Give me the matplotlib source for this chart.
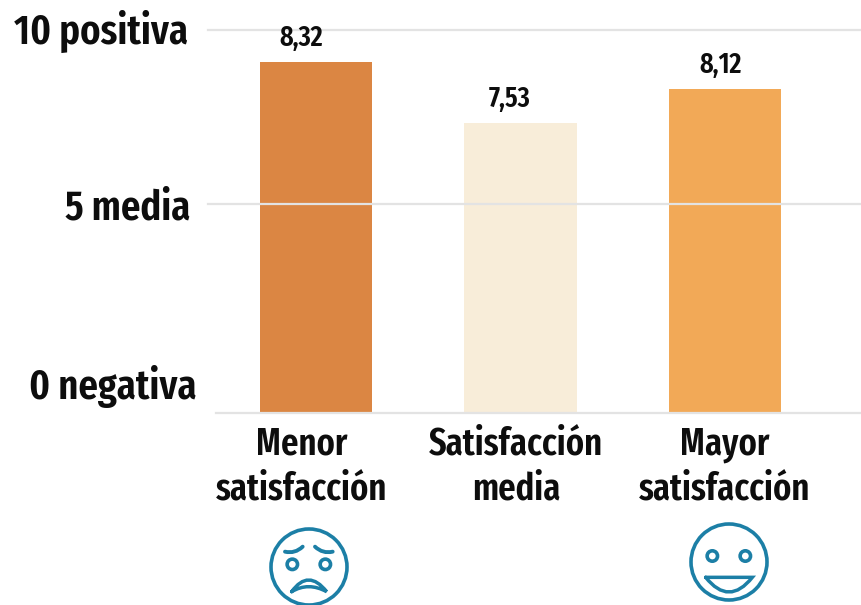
import numpy as np
import matplotlib
matplotlib.use("Agg")
import matplotlib.pyplot as plt
from matplotlib.patches import Circle, PathPatch
from matplotlib.path import Path

categories = ["Menor\nsatisfacción", "Satisfacción\nmedia", "Mayor\nsatisfacción"]
bar_heights = [9.07, 7.31, 8.29]  # height as drawn against the uneven axis
value_labels = ["8,32", "7,53", "8,12"]
bar_colors = ["#DB8643", "#F8EDD9", "#F2A957"]
tick_values = [0, 5, 10]
tick_names = ["0 negativa", "5 media", "10 positiva"]

plt.rcParams["font.family"] = ["Fira Sans Extra Condensed", "Barlow Condensed", "Liberation Sans", "DejaVu Sans"]
plt.rcParams["font.weight"] = "semibold"

W, H = 861, 605
BLUE = "#1C7FA6"
GRID = "#E3E3E3"
TEXT = "#0D0D0D"


def fx(px):
    return px / W


def fy(py):
    return 1 - py / H


# the source axis is not even: 0-5 takes more room than 5-10
def forward(v):
    return np.interp(v, [-1, 0, 5, 10, 11], [-42, 0, 209.5, 383.5, 418.3])


def inverse(p):
    return np.interp(p, [-42, 0, 209.5, 383.5, 418.3], [-1, 0, 5, 10, 11])


fig = plt.figure(figsize=(W / 100, H / 100), dpi=100)
ax = fig.add_axes([fx(208), fy(413), fx(W - 208), fy(0) - fy(413)])
ax.set_yscale("function", functions=(forward, inverse))
ax.set_ylim(0, 10 + 29.5 / 34.8)
ax.set_xlim(-108 / 204.5, 545 / 204.5)
ax.axis("off")

x = np.arange(len(categories))
ax.bar(x, bar_heights, width=0.548, color=bar_colors, zorder=2)

for v in tick_values[1:]:
    ax.plot([-108 / 204.5, 545 / 204.5], [v, v], color=GRID, lw=1.6, zorder=3, clip_on=False)
ax.plot([-100 / 204.5, 545 / 204.5], [0, 0], color=GRID, lw=1.6, zorder=3, clip_on=False)

# texts sit off-centre in the source, so they go by pixel position
tick_right = [197, 190, 188]
tick_y = [387, 208, 31]
for name, right, py in zip(tick_names, tick_right, tick_y):
    fig.text(fx(right), fy(py), name, ha="right", va="center", fontsize=30.2, color=TEXT)

label_dx = [-15, -11, -4]
for i, lab in enumerate(value_labels):
    ax.annotate(lab, (x[i], bar_heights[i]), xytext=(label_dx[i] * 0.72, 17.3),
                textcoords="offset points", ha="center", va="center",
                fontsize=20.5, color=TEXT, zorder=5)

cat_x = [302, 516, 725]
for cx, cat in zip(cat_x, categories):
    fig.text(fx(cx), fy(467), cat, ha="center", va="center", fontsize=27,
             color=TEXT, linespacing=1.28)

# overlay in pixel units for the two face icons
ov = fig.add_axes([0, 0, 1, 1])
ov.set_xlim(0, W)
ov.set_ylim(H, 0)
ov.axis("off")
ov.patch.set_alpha(0)


def stroke(x0, y0, verts, codes, lw=2.8):
    pts = [(x0 + a / 3, y0 + b / 3) for a, b in verts]
    ov.add_patch(PathPatch(Path(pts, codes), fc="none", ec=BLUE, lw=lw, capstyle="round"))


def face(cx, cy, eye_y, x0, y0):
    ov.add_patch(Circle((cx, cy), 38, fc="none", ec=BLUE, lw=2.6))
    for ex in (127, 226):
        ov.add_patch(Circle((x0 + ex / 3, y0 + eye_y / 3), 5.2, fc="none", ec=BLUE, lw=2.6))


C3 = [Path.MOVETO, Path.CURVE3, Path.CURVE3]
face(309, 567, 163, 250, 510)
stroke(250, 510, [(105, 125), (135, 132), (158, 110)], C3)
stroke(250, 510, [(195, 110), (218, 132), (248, 125)], C3)
stroke(250, 510, [(125, 245), (175, 175), (230, 245), (175, 215), (125, 245)],
       [Path.MOVETO, Path.CURVE3, Path.CURVE3, Path.CURVE3, Path.CURVE3], lw=2.5)

face(729, 562, 138, 670, 510)
stroke(670, 510, [(107, 202), (247, 202), (177, 290), (107, 202)],
       [Path.MOVETO, Path.LINETO, Path.CURVE3, Path.CURVE3], lw=2.5)

fig.savefig("out.png", dpi=100)
